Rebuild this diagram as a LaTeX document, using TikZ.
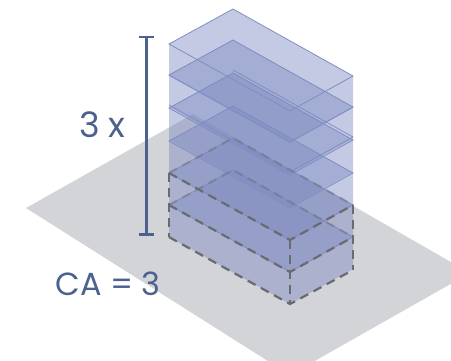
\documentclass[tikz,border=0pt]{standalone}
\usepackage{fontspec}
\setmainfont{Poppins}
\usetikzlibrary{positioning, calc}
\definecolor{slabblue}{RGB}{125,138,192}
\definecolor{slabedge}{RGB}{128,142,194}
\definecolor{barblue}{RGB}{75,98,142}
\definecolor{groundgray}{RGB}{211,212,216}
\definecolor{dashgray}{RGB}{105,107,112}
\tikzset{
    ground/.style={fill=groundgray, draw=none},
    wall/.style={fill=slabblue, fill opacity=0.45, draw=none},
    slab/.style={fill=slabblue, fill opacity=0.45, draw=slabedge, line width=0.8pt},
    outline/.style={draw=dashgray, line width=2.2pt, dash pattern=on 9pt off 6pt},
    backline/.style={outline, draw opacity=0.4},
    dimbar/.style={draw=barblue, line width=2.4pt},
    label/.style={text=barblue, font=\fontsize{32}{32}\selectfont, inner sep=0pt}
}
\begin{document}
\begin{tikzpicture}[x=1pt, y=-1pt]
    \useasboundingbox (0,0) rectangle (451,360);

    % Site
    \begin{scope}
        \clip (0,0) rectangle (451,360);
        \fill[ground] (26,208) -- (193,114) -- (470,273) -- (290,375) -- cycle;
    \end{scope}

    % Storeys, bottom to top
    \foreach \lev in {205,173,141,108,75,44} {
        \fill[wall] (169,\lev) -- (290,\lev+67) -- (290,\lev+99) -- (169,\lev+32) -- cycle;
        \fill[wall] (290,\lev+67) -- (353,\lev+32) -- (353,\lev+64) -- (290,\lev+99) -- cycle;
        \path[slab] (169,\lev) -- (233,\lev-35) -- (353,\lev+32) -- (290,\lev+67) -- cycle;
    }
    \draw[slabedge, line width=0.8pt] (169,105) -- (290,172) -- (353,137);
    \draw[slabedge, line width=0.8pt] (233,70) -- (353,137);

    % Outline of the plot-sized volume
    \foreach \lev in {173,205} {
        \draw[backline] (169,\lev) -- (233,\lev-35) -- (353,\lev+32);
        \draw[outline] (169,\lev) -- (290,\lev+67) -- (353,\lev+32);
    }
    \draw[outline] (169,237) -- (290,304) -- (353,270);
    \draw[outline] (169,173) -- (169,237);
    \draw[outline] (290,240) -- (290,304);
    \draw[outline] (353,205) -- (353,270);

    % Height bar
    \coordinate (bartop) at (146.5,37);
    \coordinate (barbot) at (146.5,234.5);
    \draw[dimbar] (bartop) -- (barbot);
    \draw[dimbar] ([xshift=-7.5pt]bartop) -- ([xshift=7.5pt]bartop);
    \draw[dimbar] ([xshift=-7.5pt]barbot) -- ([xshift=7.5pt]barbot);

    % Labels
    \node[label, font=\fontsize{35}{35}\selectfont] (times) at (102.5,125) {3\hspace{9pt}x};
    \node[label] (ratio) at (108,284) {CA = 3};
\end{tikzpicture}
\end{document}
